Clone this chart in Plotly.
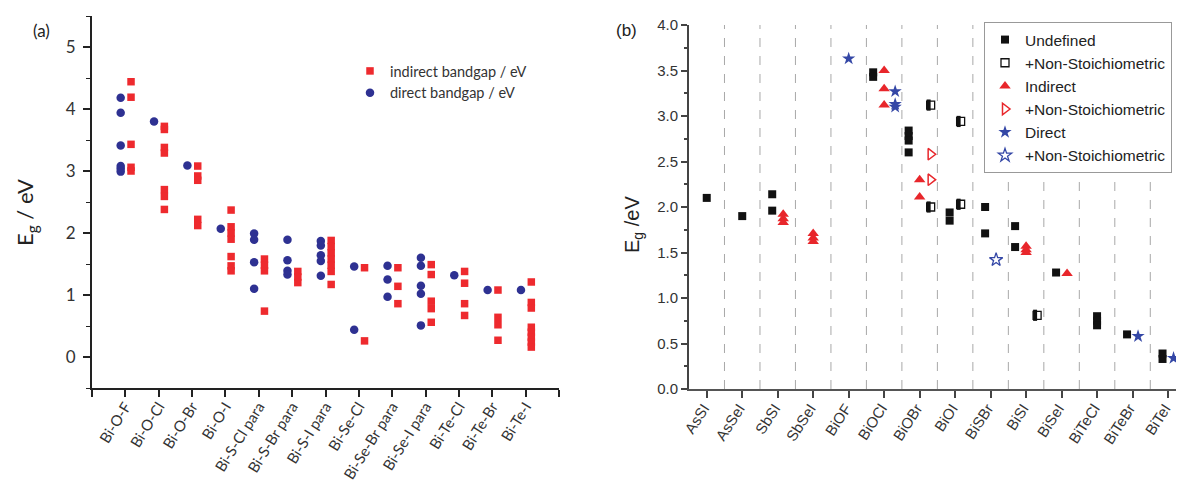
import plotly.graph_objects as go

# ---------------- Panel (a) data ----------------
cats_a = ["Bi-O-F", "Bi-O-Cl", "Bi-O-Br", "Bi-O-I", "Bi-S-Cl para", "Bi-S-Br para",
          "Bi-S-I para", "Bi-Se-Cl", "Bi-Se-Br para", "Bi-Se-I para", "Bi-Te-Cl",
          "Bi-Te-Br", "Bi-Te-I"]
indirect_a = [
    [4.44, 4.19, 3.43, 3.06, 3.00],
    [3.72, 3.67, 3.38, 3.29, 2.70, 2.59, 2.38],
    [3.08, 2.92, 2.85, 2.22, 2.12],
    [2.37, 2.10, 2.00, 1.90, 1.62, 1.47, 1.39],
    [1.58, 1.48, 1.39, 0.74],
    [1.38, 1.29, 1.20],
    [1.88, 1.78, 1.68, 1.58, 1.48, 1.38, 1.17],
    [1.44, 0.26],
    [1.44, 1.14, 0.86],
    [1.49, 1.33, 0.90, 0.78, 0.56],
    [1.38, 1.19, 0.86, 0.67],
    [1.08, 0.64, 0.52, 0.27],
    [1.21, 0.88, 0.79, 0.48, 0.40, 0.32, 0.24, 0.16],
]
direct_a = [
    [4.18, 3.94, 3.41, 3.08, 3.04, 2.99],
    [3.80],
    [3.09],
    [2.07],
    [1.99, 1.89, 1.53, 1.10],
    [1.89, 1.56, 1.39, 1.33],
    [1.87, 1.80, 1.64, 1.55, 1.31],
    [1.46, 0.44],
    [1.47, 1.25, 0.97],
    [1.60, 1.47, 1.15, 1.02, 0.51],
    [1.32],
    [1.08],
    [1.08],
]

# ---------------- Panel (b) data ----------------
cats_b = ["AsSI", "AsSeI", "SbSI", "SbSeI", "BiOF", "BiOCl", "BiOBr", "BiOI",
          "BiSBr", "BiSI", "BiSeI", "BiTeCl", "BiTeBr", "BiTeI"]
undef_cat = ["AsSI", "AsSeI", "SbSI", "SbSI", "BiOCl", "BiOCl", "BiOBr", "BiOBr", "BiOBr",
             "BiOBr", "BiOI", "BiOI", "BiSBr", "BiSBr", "BiSI", "BiSI", "BiSeI",
             "BiTeCl", "BiTeCl", "BiTeCl", "BiTeBr", "BiTeI", "BiTeI"]
undef_val = [2.10, 1.90, 2.14, 1.96, 3.48, 3.43, 2.84, 2.78, 2.73, 2.60, 1.94, 1.85,
             2.00, 1.71, 1.79, 1.56, 1.28, 0.80, 0.75, 0.70, 0.60, 0.39, 0.33]
ns_undef_cat = ["BiOBr", "BiOBr", "BiOI", "BiOI", "BiSI"]
ns_undef_val = [3.12, 2.00, 2.94, 2.03, 0.81]
indirect_cat = ["SbSI", "SbSI", "SbSI", "SbSeI", "SbSeI", "SbSeI", "BiOCl", "BiOCl", "BiOCl",
                "BiOBr", "BiOBr", "BiSI", "BiSI", "BiSI", "BiSeI"]
indirect_val = [1.92, 1.87, 1.83, 1.71, 1.66, 1.62, 3.50, 3.30, 3.12,
                2.30, 2.11, 1.57, 1.53, 1.50, 1.27]
ns_indirect_cat = ["BiOBr", "BiOBr"]
ns_indirect_val = [2.58, 2.30]
direct_cat = ["BiOF", "BiOCl", "BiOCl", "BiOCl", "BiTeBr", "BiTeI"]
direct_val = [3.63, 3.27, 3.13, 3.10, 0.58, 0.34]
ns_direct_cat = ["BiSBr"]
ns_direct_val = [1.42]

RED_A = "#EE2A2E"
BLUE_A = "#2E3192"
RED_B = "#E8262B"
BLUE_B = "#3447A6"
FONT_A = "Lato"
FONT_B = "Liberation Sans, Arial"

# The page body has an 8px margin; the figure fills the visible part of the window.
OFF = 8
W, H = 1184 - OFF, 485 - OFF


def fx(sx):
    return (sx - OFF) / W


def fy(sy):
    return 1 - (sy - OFF) / H


fig = go.Figure()

# ---- panel (a) traces ----
xa_ind, ya_ind, xa_dir, ya_dir = [], [], [], []
for i, c in enumerate(cats_a):
    for v in indirect_a[i]:
        xa_ind.append(i + 1 + 0.17)
        ya_ind.append(v)
    for v in direct_a[i]:
        xa_dir.append(i + 1 - 0.14)
        ya_dir.append(v)

fig.add_trace(go.Scatter(x=xa_ind, y=ya_ind, mode="markers", name="indirect bandgap / eV",
                         marker=dict(symbol="square", size=7.5, color=RED_A),
                         xaxis="x", yaxis="y", legend="legend"))
fig.add_trace(go.Scatter(x=xa_dir, y=ya_dir, mode="markers", name="direct bandgap / eV",
                         marker=dict(symbol="circle", size=8.5, color=BLUE_A),
                         xaxis="x", yaxis="y", legend="legend"))

# ---- panel (b) column layout inside each category ----
series_b = [
    ("Undefined", "Undefined", undef_cat, undef_val),
    ("+Non-Stoichiometric", "NS", ns_undef_cat, ns_undef_val),
    ("Indirect", "Indirect", indirect_cat, indirect_val),
    ("+Non-Stoichiometric", "NS", ns_indirect_cat, ns_indirect_val),
    ("Direct", "Direct", direct_cat, direct_val),
    ("+Non-Stoichiometric", "NS", ns_direct_cat, ns_direct_val),
]
col_order = ["Undefined", "Indirect", "Direct", "NS"]
present = {c: set() for c in cats_b}
for _, key, cl, _ in series_b:
    for c in cl:
        present[c].add(key)
SPACING = 0.31


def xpos(cat, key):
    cols = [k for k in col_order if k in present[cat]]
    n = len(cols)
    k = cols.index(key)
    return cats_b.index(cat) + (k - (n - 1) / 2) * SPACING


styles = [
    dict(symbol="square", size=8, color="#111111"),
    dict(symbol="square-open", size=8, color="#111111", line=dict(width=1.3, color="#111111")),
    dict(symbol="triangle-up", size=10, color=RED_B),
    dict(symbol="triangle-right-open", size=10, color=RED_B, line=dict(width=1.5, color=RED_B)),
    dict(symbol="star", size=10, color=BLUE_B),
    dict(symbol="star-open", size=10, color=BLUE_B, line=dict(width=1.3, color=BLUE_B)),
]
for (name, key, cl, vl), st in zip(series_b, styles):
    xs = [xpos(c, key) for c in cl]
    fig.add_trace(go.Scatter(x=xs, y=vl, mode="markers", name=name, marker=st,
                             xaxis="x2", yaxis="y2", legend="legend2"))
    if name == "+Non-Stoichiometric" and st["symbol"] == "square-open":
        # filled left half of the half-filled square
        fig.add_trace(go.Scatter(x=[x - 2.0 / 35.48 for x in xs], y=vl, mode="markers",
                                 showlegend=False,
                                 marker=dict(symbol="line-ns", size=8,
                                             line=dict(width=4, color="#111111")),
                                 xaxis="x2", yaxis="y2", legend="legend2"))

# dashed separators between categories
for i in range(len(cats_b) - 1):
    fig.add_shape(type="line", xref="x2", yref="y2 domain", x0=i + 0.5, x1=i + 0.5, y0=0, y1=1,
                  line=dict(color="#A8A8A8", width=1, dash="dash"), layer="below")

fig.update_layout(
    width=W, height=H,
    margin=dict(l=0, r=0, t=0, b=0, autoexpand=False),
    paper_bgcolor="white", plot_bgcolor="white",
    showlegend=True,
    xaxis=dict(domain=[fx(92), fx(559)], range=[0, 14], anchor="y",
               tickmode="array", tickvals=list(range(1, len(cats_a) + 1)),
               ticktext=cats_a, tickangle=-58,
               ticks="outside", ticklen=7, tickwidth=1.5, tickcolor="#222",
               minor=dict(tickmode="linear", tick0=0, dtick=1, ticks="outside", ticklen=7,
                          tickwidth=1.5, tickcolor="#222"),
               ticklabelstandoff=-5,
               showline=True, linecolor="#222", linewidth=2,
               showgrid=False, zeroline=False,
               tickfont=dict(family=FONT_A, size=15, color="#333")),
    yaxis=dict(domain=[fy(388), fy(16)], range=[-0.5, 5.5], anchor="x",
               tickmode="linear", tick0=0, dtick=1,
               ticks="outside", ticklen=7, tickwidth=1.5, tickcolor="#222",
               minor=dict(tick0=0, dtick=0.5, ticks="outside", ticklen=4, tickcolor="#222",
                          tickwidth=1.2),
               showline=True, linecolor="#222", linewidth=2, ticklabelstandoff=4,
               showgrid=False, zeroline=False,
               tickfont=dict(family=FONT_A, size=17, color="#333")),
    xaxis2=dict(domain=[fx(689), 1.0], range=[-0.5, 13.45], anchor="y2",
                tickmode="array", tickvals=list(range(len(cats_b))), ticktext=cats_b,
                tickangle=-57, ticks="outside", ticklen=7, tickwidth=1.5, tickcolor="#444",
                ticklabelstandoff=-4, ticklabelshift=-3,
                showline=True, linecolor="#555", linewidth=1.5,
                showgrid=False, zeroline=False,
                tickfont=dict(family=FONT_B, size=15, color="#333")),
    yaxis2=dict(domain=[fy(389), fy(25)], range=[0, 4.0], anchor="x2",
                tickmode="linear", tick0=0, dtick=0.5, tickformat=".1f",
                ticks="outside", ticklen=6, tickwidth=1.5, tickcolor="#444",
                minor=dict(tick0=0, dtick=0.25, ticks="outside", ticklen=3, tickcolor="#444"),
                showline=True, linecolor="#444", linewidth=2,
                showgrid=False, zeroline=False,
                tickfont=dict(family=FONT_B, size=15, color="#333")),
    legend=dict(x=fx(350), y=fy(55), xanchor="left", yanchor="top",
                bgcolor="rgba(0,0,0,0)", borderwidth=0, tracegroupgap=0,
                font=dict(family=FONT_A, size=14.5, color="#333")),
    legend2=dict(x=fx(984), y=fy(22), xanchor="left", yanchor="top",
                 bgcolor="white", bordercolor="#999", borderwidth=1, tracegroupgap=0,
                 font=dict(family=FONT_B, size=15.5, color="#222")),
    annotations=[
        dict(text="(a)", x=fx(41), y=fy(30), xref="paper", yref="paper",
             xanchor="center", yanchor="middle",
             showarrow=False, font=dict(family=FONT_A, size=17, color="#222")),
        dict(text="(b)", x=fx(626), y=fy(31), xref="paper", yref="paper",
             xanchor="center", yanchor="middle",
             showarrow=False, font=dict(family=FONT_B, size=17, color="#222")),
        dict(text="E<sub>g</sub> / eV", x=fx(26), y=fy(213), xref="paper", yref="paper",
             xanchor="center", yanchor="middle",
             showarrow=False, textangle=-90, font=dict(family=FONT_A, size=22, color="#222")),
        dict(text="E<sub>g</sub> /eV", x=fx(633), y=fy(225), xref="paper", yref="paper",
             xanchor="center", yanchor="middle",
             showarrow=False, textangle=-90, font=dict(family=FONT_B, size=20, color="#222")),
    ],
)

fig.write_html("out.html")
